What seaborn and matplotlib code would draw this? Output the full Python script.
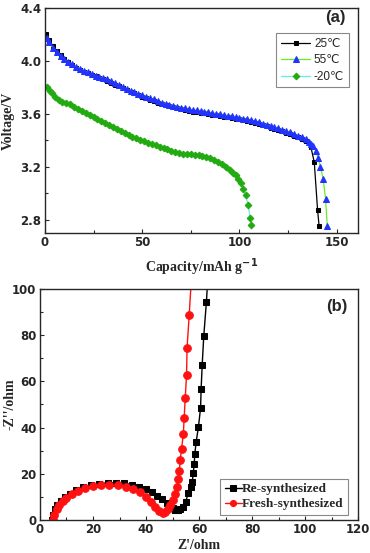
import matplotlib
matplotlib.use("Agg")
import matplotlib.pyplot as plt
import seaborn as sns
from matplotlib.ticker import MultipleLocator

# ---------------- data: panel (a) discharge curves ----------------
cap_25 = [0.5, 2, 4, 6, 8, 10, 12, 14, 16, 18, 20, 22, 24, 26, 28, 30, 32, 34, 36, 38,
          40, 42, 44, 46, 48, 50, 52, 54, 56, 58, 60, 62, 64, 66, 68, 70, 72, 74, 76, 78,
          80, 82, 84, 86, 88, 90, 92, 94, 96, 98, 100, 102, 104, 106, 108, 110, 112, 114,
          116, 118, 120, 122, 124, 126, 128, 130, 132, 134.5, 136.8, 138.5, 140.2, 141.0]
volt_25 = [4.205, 4.16, 4.115, 4.075, 4.045, 4.015, 3.99, 3.97, 3.95, 3.935, 3.92, 3.908,
           3.895, 3.884, 3.873, 3.862, 3.851, 3.837, 3.822, 3.807, 3.792, 3.781, 3.766,
           3.755, 3.74, 3.729, 3.718, 3.707, 3.697, 3.683, 3.673, 3.665, 3.657, 3.649,
           3.642, 3.635, 3.629, 3.623, 3.618, 3.613, 3.609, 3.604, 3.599, 3.594, 3.589,
           3.584, 3.579, 3.574, 3.569, 3.564, 3.559, 3.552, 3.545, 3.537, 3.530, 3.522,
           3.514, 3.505, 3.497, 3.487, 3.477, 3.467, 3.457, 3.447, 3.435, 3.423, 3.41,
           3.395, 3.347, 3.235, 2.875, 2.75]

cap_55 = [0.9, 2, 4, 6, 8, 10, 12, 14, 16, 18, 20, 22, 24, 26, 28, 30, 32, 34, 36, 38,
          40, 42, 44, 46, 48, 50, 52, 54, 56, 58, 60, 62, 64, 66, 68, 70, 72, 74, 76, 78,
          80, 82, 84, 86, 88, 90, 92, 94, 96, 98, 100, 102, 104, 106, 108, 110, 112, 114,
          116, 118, 120, 122, 124, 126, 128, 130, 132, 134, 136, 137, 138, 139.3, 140.5,
          141.7, 143.1, 144.3, 145.2]
volt_55 = [4.175, 4.14, 4.10, 4.065, 4.04, 4.015, 3.99, 3.975, 3.955, 3.94, 3.925, 3.915,
           3.90, 3.89, 3.88, 3.87, 3.86, 3.845, 3.83, 3.815, 3.80, 3.79, 3.775, 3.765,
           3.75, 3.74, 3.73, 3.72, 3.71, 3.695, 3.685, 3.678, 3.67, 3.662, 3.655, 3.648,
           3.642, 3.636, 3.631, 3.626, 3.622, 3.617, 3.612, 3.607, 3.602, 3.597, 3.592,
           3.587, 3.582, 3.577, 3.572, 3.565, 3.558, 3.55, 3.543, 3.535, 3.527, 3.518,
           3.51, 3.50, 3.49, 3.48, 3.47, 3.46, 3.448, 3.436, 3.424, 3.41, 3.39, 3.375,
           3.36, 3.32, 3.265, 3.20, 3.105, 2.96, 2.75]

cap_m20 = [1.2, 2.5, 3.4, 5, 7, 9, 11, 13, 15, 17, 19, 21, 23, 25, 27, 29, 31, 33, 35, 37,
           39, 41, 43, 45, 47, 49, 51, 53, 55, 57, 59, 61, 63, 65, 67, 69, 71, 73, 75, 77,
           79, 81, 83, 85, 87, 89, 91, 93, 95, 96.5, 98.2, 99.4, 100.8, 102, 103.3, 104.4,
           105.6, 106.2]
volt_m20 = [3.80, 3.77, 3.755, 3.73, 3.705, 3.69, 3.68, 3.672, 3.655, 3.64, 3.625, 3.605,
            3.59, 3.575, 3.56, 3.545, 3.53, 3.515, 3.50, 3.485, 3.47, 3.455, 3.44, 3.428,
            3.415, 3.403, 3.392, 3.382, 3.372, 3.362, 3.352, 3.342, 3.332, 3.32, 3.31,
            3.303, 3.299, 3.296, 3.294, 3.291, 3.287, 3.281, 3.273, 3.264, 3.253, 3.239,
            3.222, 3.202, 3.178, 3.156, 3.135, 3.105, 3.077, 3.035, 2.985, 2.912, 2.815,
            2.76]

labels_a = ["25\u2103", "55\u2103", "-20\u2103"]
xticks_a = [0, 50, 100, 150]
yticks_a = [2.8, 3.2, 3.6, 4.0, 4.4]

# ---------------- data: panel (b) Nyquist plots ----------------
zre_re = [4.4, 4.8, 5.6, 6.6, 7.8, 9.3, 11.2, 13.6, 16.2, 19.2, 22.3, 25.5, 28.7, 31.8,
          34.8, 37.5, 40.0, 42.3, 44.3, 46.2, 47.8, 49.0, 50.0, 51.0, 52.0, 53.0, 54.0,
          55.0, 56.0, 56.8, 57.5, 57.8, 58.2, 58.4, 58.9, 59.8, 60.6, 60.8, 61.2, 61.8,
          62.8, 63.6]
zim_re = [0.0, 2.3, 4.6, 6.6, 8.3, 9.9, 11.4, 12.9, 14.1, 15.0, 15.7, 16.1, 16.2, 15.9,
          15.3, 14.4, 13.3, 12.0, 10.5, 9.0, 7.5, 6.0, 5.0, 4.4, 4.3, 4.7, 5.8, 8.0, 11.8,
          14.1, 16.6, 20.2, 24.2, 28.4, 33.6, 40.4, 48.6, 56.7, 67.1, 79.7, 94.5, 110.0]

zre_fr = [5.0, 5.4, 6.3, 7.3, 8.5, 10.0, 11.9, 14.4, 17.0, 20.1, 23.2, 26.1, 29.5, 32.4,
          35.2, 37.7, 40.0, 41.7, 43.3, 45.0, 46.5, 47.2, 48.4, 49.2, 50.3, 51.1, 51.6,
          52.1, 52.6, 52.9, 53.4, 54.1, 54.4, 54.8, 55.3, 55.5, 56.3, 57.2]
zim_fr = [0.0, 2.2, 4.6, 6.5, 8.2, 9.7, 11.3, 12.7, 13.7, 14.7, 15.2, 15.2, 15.0, 14.4,
          13.4, 12.0, 10.1, 7.9, 5.5, 3.8, 3.2, 3.5, 4.8, 6.5, 8.7, 11.3, 14.1, 17.7, 21.4,
          26.0, 30.7, 37.2, 44.3, 52.7, 62.8, 74.6, 88.7, 106.0]

labels_b = ["Re-synthesized", "Fresh-synthesized"]

# ---------------- style ----------------
sns.set_style("ticks")
plt.rcParams["font.family"] = ["Liberation Serif", "DejaVu Serif"]
plt.rcParams["axes.linewidth"] = 1.0
plt.rcParams["xtick.direction"] = "in"
plt.rcParams["ytick.direction"] = "in"

SANS = ["DejaVu Sans"]
SERIF = ["Liberation Serif", "DejaVu Serif"]

fig = plt.figure(figsize=(3.7, 5.53), dpi=100)
ax1 = fig.add_axes([0.1216, 0.5787, 0.8460, 0.4068])
ax2 = fig.add_axes([0.1081, 0.0597, 0.8595, 0.4177])


def style_ticks(ax):
    ax.tick_params(axis="both", which="major", length=3, width=0.8, pad=2.5)
    ax.tick_params(axis="both", which="minor", length=2, width=0.8)
    for lab in ax.get_xticklabels() + ax.get_yticklabels():
        lab.set_fontfamily(SANS)
        lab.set_fontweight("bold")
        lab.set_fontsize(8.5)
    for s in ax.spines.values():
        s.set_visible(True)


# ---- panel (a)
sns.lineplot(x=cap_25, y=volt_25, ax=ax1, color="black", lw=0.9, marker="s",
             markersize=3.4, markerfacecolor="black", markeredgecolor="black",
             sort=False, estimator=None, label=labels_a[0])
sns.lineplot(x=cap_55, y=volt_55, ax=ax1, color="#66ee22", lw=0.9, marker="^",
             markersize=4.2, markerfacecolor="#2233ff", markeredgecolor="#2233ff",
             sort=False, estimator=None, label=labels_a[1])
sns.lineplot(x=cap_m20, y=volt_m20, ax=ax1, color="#66eedd", lw=0.9, marker="D",
             markersize=3.4, markerfacecolor="#22aa11", markeredgecolor="#22aa11",
             sort=False, estimator=None, label=labels_a[2])

ax1.set_xlim(0, 161)
ax1.set_ylim(2.7, 4.4)
ax1.set_xticks(xticks_a)
ax1.set_xticklabels([str(v) for v in xticks_a])
ax1.xaxis.set_minor_locator(MultipleLocator(25))
ax1.set_yticks(yticks_a)
ax1.set_yticklabels([f"{v:.1f}" for v in yticks_a])
ax1.yaxis.set_minor_locator(MultipleLocator(0.2))
style_ticks(ax1)
ax1.set_xlabel("Capacity/mAh g$^{\\mathbf{-1}}$", fontsize=10, fontweight="bold",
               labelpad=5)
ax1.set_ylabel("Voltage/V", fontsize=10, fontweight="bold")
ax1.yaxis.set_label_coords(-0.097, 0.5)
ax1.text(0.927, 0.99, "(a)", transform=ax1.transAxes, ha="center", va="top",
         fontsize=12, fontweight="bold", family=["Liberation Sans", "DejaVu Sans"])
leg1 = ax1.legend(loc="upper right", bbox_to_anchor=(0.971, 0.889), frameon=True,
                  fancybox=False, edgecolor="#888888", framealpha=1,
                  prop={"family": ["Liberation Sans", "DejaVu Sans"], "size": 8.5,
                        "weight": "normal"},
                  handlelength=2.5, handletextpad=0.3, labelspacing=0.38,
                  borderpad=0.4, borderaxespad=0)
leg1.get_frame().set_linewidth(0.8)

# ---- panel (b)
sns.lineplot(x=zre_re, y=zim_re, ax=ax2, color="black", lw=1.0, marker="s",
             markersize=4.8, markerfacecolor="black", markeredgecolor="black",
             sort=False, estimator=None, label=labels_b[0])
sns.lineplot(x=zre_fr, y=zim_fr, ax=ax2, color="#ff1111", lw=1.0, marker="o",
             markersize=5.5, markerfacecolor="#ff1111", markeredgecolor="#ff1111",
             sort=False, estimator=None, label=labels_b[1])

ax2.set_xlim(0, 120)
ax2.set_ylim(0, 100)
ax2.xaxis.set_major_locator(MultipleLocator(20))
ax2.xaxis.set_minor_locator(MultipleLocator(10))
ax2.yaxis.set_major_locator(MultipleLocator(20))
ax2.yaxis.set_minor_locator(MultipleLocator(10))
style_ticks(ax2)
ax2.set_xlabel("Z'/ohm", fontsize=10, fontweight="bold", labelpad=2)
ax2.set_ylabel("-Z''/ohm", fontsize=10, fontweight="bold")
ax2.yaxis.set_label_coords(-0.074, 0.5)
ax2.text(0.932, 0.955, "(b)", transform=ax2.transAxes, ha="center", va="top",
         fontsize=12, fontweight="bold", family=["Liberation Sans", "DejaVu Sans"])
leg2 = ax2.legend(loc="lower right", bbox_to_anchor=(0.969, 0.022), frameon=True,
                  fancybox=False, edgecolor="#888888", framealpha=1,
                  prop={"family": SERIF, "size": 9.5, "weight": "bold"},
                  handlelength=1.3, handletextpad=0.0, labelspacing=0.2,
                  borderpad=0.35, borderaxespad=0, markerscale=0.8)
leg2.get_frame().set_linewidth(0.8)

fig.savefig("out.png", dpi=100)
